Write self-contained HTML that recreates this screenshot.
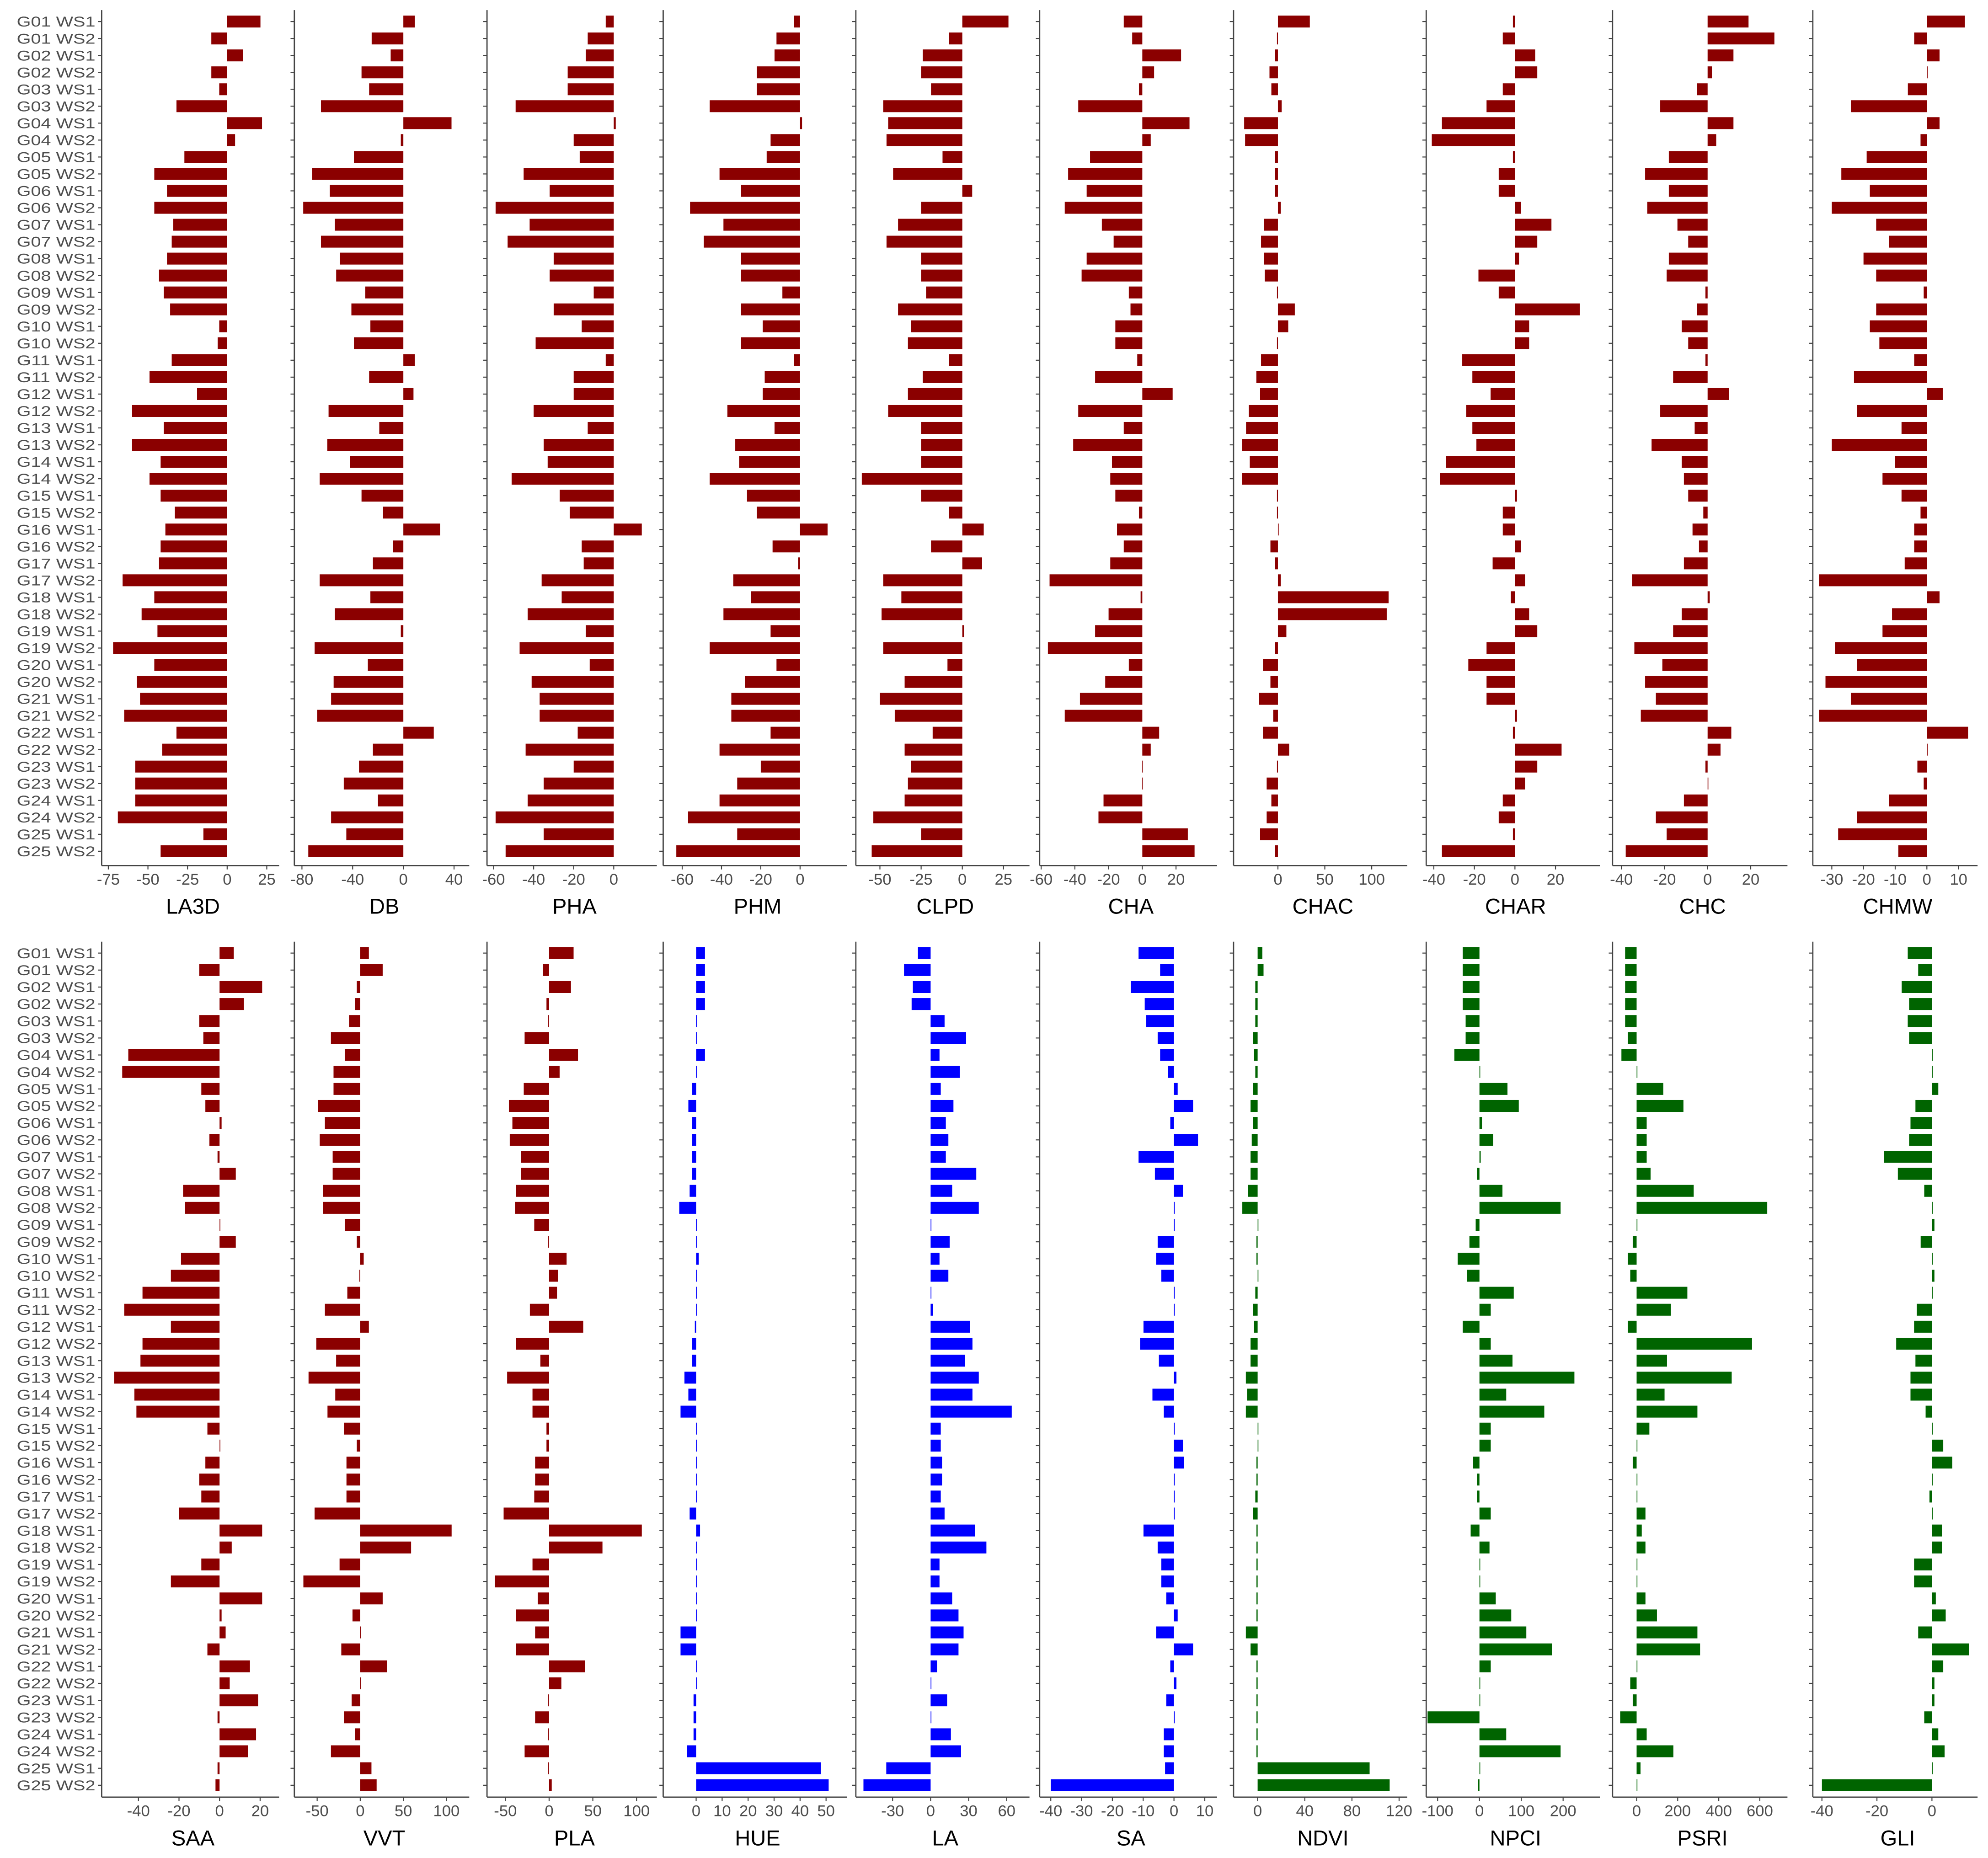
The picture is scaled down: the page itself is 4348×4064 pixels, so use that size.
<!DOCTYPE html>
<html><head><meta charset="utf-8"><style>
html,body{margin:0;padding:0;background:#fff;}
svg{display:block;}
</style></head><body>
<svg id="chart" xmlns="http://www.w3.org/2000/svg" width="4348" height="4064" viewBox="0 0 1568 1466" font-family="'Liberation Sans', sans-serif"></svg>
<script>
const categories = [];
for (let g = 1; g <= 25; g++) { const gg = (g < 10 ? 'G0' : 'G') + g; categories.push(gg + ' WS1'); categories.push(gg + ' WS2'); }

const LA3D = [21,-10,10,-10,-5,-32,22,5,-27,-46,-38,-46,-34,-35,-38,-43,-40,-36,-5,-6,-35,-49,-19,-60,-40,-60,-42,-49,-42,-33,-39,-42,-43,-66,-46,-54,-44,-72,-46,-57,-55,-65,-32,-41,-58,-58,-58,-69,-15,-42];
const DB = [9,-25,-10,-33,-27,-65,38,-2,-39,-72,-58,-79,-54,-65,-50,-53,-30,-41,-26,-39,9,-27,8,-59,-19,-60,-42,-66,-33,-16,29,-8,-24,-66,-26,-54,-2,-70,-28,-55,-57,-68,24,-24,-35,-47,-20,-57,-45,-75];
const PHA = [-4,-13,-14,-23,-23,-49,1,-20,-17,-45,-32,-59,-42,-53,-30,-32,-10,-30,-16,-39,-4,-20,-20,-40,-13,-35,-33,-51,-27,-22,14,-16,-15,-36,-26,-43,-14,-47,-12,-41,-37,-37,-18,-44,-20,-35,-43,-59,-35,-54];
const PHM = [-3,-12,-13,-22,-22,-46,1,-15,-17,-41,-30,-56,-39,-49,-30,-30,-9,-30,-19,-30,-3,-18,-19,-37,-13,-33,-31,-46,-27,-22,14,-14,-1,-34,-25,-39,-15,-46,-12,-28,-35,-35,-15,-41,-20,-32,-41,-57,-32,-63];
const CLPD = [28,-8,-24,-25,-19,-48,-45,-46,-12,-42,6,-25,-39,-46,-25,-25,-22,-39,-31,-33,-8,-24,-33,-45,-25,-25,-25,-61,-25,-8,13,-19,12,-48,-37,-49,1,-48,-9,-35,-50,-41,-18,-35,-31,-33,-35,-54,-25,-55];
const CHA = [-11,-6,23,7,-2,-38,28,5,-31,-44,-33,-46,-24,-17,-33,-36,-8,-7,-16,-16,-3,-28,18,-38,-11,-41,-18,-19,-16,-2,-15,-11,-19,-55,-1,-20,-28,-56,-8,-22,-37,-46,10,5,0,0,-23,-26,27,31];
const CHAC = [34,-1,-3,-9,-7,4,-36,-35,-3,-3,-3,3,-15,-18,-15,-14,-1,18,11,-1,-18,-23,-19,-31,-34,-38,-30,-38,-1,-1,0,-8,-3,3,118,116,9,-3,-16,-8,-20,-5,-16,12,-1,-12,-7,-12,-19,-3];
const CHAR = [-1,-6,10,11,-6,-14,-36,-41,-1,-8,-8,3,18,11,2,-18,-8,32,7,7,-26,-21,-12,-24,-21,-19,-34,-37,1,-6,-6,3,-11,5,-2,7,11,-14,-23,-14,-14,1,-1,23,11,5,-6,-8,-1,-36];
const CHC = [19,31,12,2,-5,-22,12,4,-18,-29,-18,-28,-14,-9,-18,-19,-1,-5,-12,-9,-1,-16,10,-22,-6,-26,-12,-11,-9,-2,-7,-4,-11,-35,1,-12,-16,-34,-21,-29,-24,-31,11,6,-1,0,-11,-24,-19,-38];
const CHMW = [12,-4,4,0,-6,-24,4,-2,-19,-27,-18,-30,-16,-12,-20,-16,-1,-16,-18,-15,-4,-23,5,-22,-8,-30,-10,-14,-8,-2,-4,-4,-7,-34,4,-11,-14,-29,-22,-32,-24,-34,13,0,-3,-1,-12,-22,-28,-9];
const SAA = [7,-10,21,12,-10,-8,-45,-48,-9,-7,1,-5,-1,8,-18,-17,0,8,-19,-24,-38,-47,-24,-38,-39,-52,-42,-41,-6,0,-7,-10,-9,-20,21,6,-9,-24,21,1,3,-6,15,5,19,-1,18,14,-1,-2];
const VVT = [10,26,-4,-6,-13,-34,-18,-31,-31,-49,-41,-47,-32,-32,-43,-43,-18,-4,4,-1,-15,-41,10,-51,-28,-60,-29,-38,-19,-4,-16,-16,-16,-53,106,59,-24,-66,26,-9,1,-22,31,0,-10,-19,-6,-34,13,19];
const PLA = [28,-7,25,-3,-1,-28,33,12,-29,-46,-42,-45,-32,-32,-38,-39,-17,-1,20,10,9,-22,39,-38,-10,-48,-19,-19,-3,-3,-16,-16,-17,-52,106,61,-19,-62,-13,-38,-16,-38,41,14,-1,-16,-1,-28,-1,3];
const HUE = [3.4,3.4,3.4,3.4,0,0,3.4,0,-1.5,-3,-1.5,-1.5,-1.5,-1.5,-2.5,-6.5,0,0,1,0,0,0,-0.5,-1.5,-1.5,-4.5,-3,-6,0,0,0,0,0,-2.5,1.5,0,0,0,0,0,-6,-6,0,0,-1,-1,-1,-3.5,48,51];
const LA = [-10,-21,-14,-15,11,28,7,23,8,18,12,14,12,36,17,38,0,15,7,14,0,2,31,33,27,38,33,64,8,8,9,9,8,11,35,44,7,7,17,22,26,22,5,0,13,0,16,24,-35,-53];
const SA = [-11.5,-4.5,-14,-9.5,-9,-5.3,-4.5,-2,1.2,6.2,-1.2,7.8,-11.5,-6.2,2.9,0,0,-5.3,-5.8,-4.1,0,0,-9.9,-11,-4.9,0.8,-7,-3.3,0,2.9,3.3,0,0,0,-9.9,-5.3,-4.1,-4.1,-2.5,1.2,-5.8,6.2,-1.2,0.8,-2.5,0,-3.3,-3.3,-2.9,-40];
const NDVI = [4,5,-2,-2,-2,-4,-3,-2,-4,-6,-4,-5,-6,-6,-8,-13,0,-1,-1,0,-2,-4,-3,-6,-6,-10,-9,-10,0,0,-1,-1,-2,-4,-1,-1,-1,-1,-1,-1,-10,-6,-1,-1,-1,-1,-1,-1,95,112];
const NPCI = [-40,-40,-40,-40,-33,-33,-60,0,67,94,6,33,3,-6,55,194,-9,-24,-52,-30,82,27,-40,27,79,227,64,155,27,27,-15,-6,-6,27,-21,24,0,0,39,76,112,173,27,0,0,-124,64,194,0,-3];
const PSRI = [-56,-56,-56,-56,-56,-43,-74,0,130,228,49,49,49,68,278,636,0,-19,-43,-31,247,167,-43,562,148,463,136,296,62,0,-19,0,0,43,25,43,0,0,43,99,296,309,0,-31,-19,-80,49,179,19,0];
const GLI = [-8.8,-5,-11,-8.3,-8.8,-8.3,0,0,2.3,-6,-7.8,-8.3,-17.5,-12.4,-2.8,0,0.9,-4.1,0,0.9,0,-5.5,-6.5,-13,-6,-7.8,-7.8,-2.3,0,4.1,7.4,0,-0.9,0,3.7,3.7,-6.5,-6.5,1.4,5,-5,13.4,4.1,0.9,0.9,-2.8,2.3,4.6,0,-40];

const ticksLA3D = [-75,-50,-25,0,25];
const ticksDB = [-80,-40,0,40];
const ticksPHA = [-60,-40,-20,0];
const ticksPHM = [-60,-40,-20,0];
const ticksCLPD = [-50,-25,0,25];
const ticksCHA = [-60,-40,-20,0,20];
const ticksCHAC = [0,50,100];
const ticksCHAR = [-40,-20,0,20];
const ticksCHC = [-40,-20,0,20];
const ticksCHMW = [-30,-20,-10,0,10];
const ticksSAA = [-40,-20,0,20];
const ticksVVT = [-50,0,50,100];
const ticksPLA = [-50,0,50,100];
const ticksHUE = [0,10,20,30,40,50];
const ticksLA = [-30,0,30,60];
const ticksSA = [-40,-30,-20,-10,0,10];
const ticksNDVI = [0,40,80,120];
const ticksNPCI = [-100,0,100,200];
const ticksPSRI = [0,200,400,600];
const ticksGLI = [-40,-20,0];

const RED = '#8b0000', BLUE = '#0000ff', GREEN = '#006400';
// layout: x0/x1 panel extents, zero pixel and pixels per unit (display coords)
const panels = [
 {t:'LA3D',v:LA3D,tk:ticksLA3D,c:RED,r:0,x0:80,x1:220,z:179,k:1.25},
 {t:'DB',v:DB,tk:ticksDB,c:RED,r:0,x0:232,x1:370,z:318,k:1.0},
 {t:'PHA',v:PHA,tk:ticksPHA,c:RED,r:0,x0:384,x1:518,z:484,k:1.58},
 {t:'PHM',v:PHM,tk:ticksPHM,c:RED,r:0,x0:523,x1:668,z:631,k:1.55},
 {t:'CLPD',v:CLPD,tk:ticksCLPD,c:RED,r:0,x0:675,x1:812,z:759,k:1.3},
 {t:'CHA',v:CHA,tk:ticksCHA,c:RED,r:0,x0:820,x1:960,z:901,k:1.33},
 {t:'CHAC',v:CHAC,tk:ticksCHAC,c:RED,r:0,x0:973,x1:1110,z:1008,k:0.74},
 {t:'CHAR',v:CHAR,tk:ticksCHAR,c:RED,r:0,x0:1125,x1:1262,z:1195,k:1.6},
 {t:'CHC',v:CHC,tk:ticksCHC,c:RED,r:0,x0:1272,x1:1410,z:1347,k:1.7},
 {t:'CHMW',v:CHMW,tk:ticksCHMW,c:RED,r:0,x0:1430,x1:1560,z:1520,k:2.5},
 {t:'SAA',v:SAA,tk:ticksSAA,c:RED,r:1,x0:80,x1:220,z:173,k:1.6},
 {t:'VVT',v:VVT,tk:ticksVVT,c:RED,r:1,x0:232,x1:370,z:284,k:0.68},
 {t:'PLA',v:PLA,tk:ticksPLA,c:RED,r:1,x0:384,x1:518,z:433,k:0.69},
 {t:'HUE',v:HUE,tk:ticksHUE,c:BLUE,r:1,x0:523,x1:668,z:549,k:2.05},
 {t:'LA',v:LA,tk:ticksLA,c:BLUE,r:1,x0:675,x1:812,z:734,k:1.0},
 {t:'SA',v:SA,tk:ticksSA,c:BLUE,r:1,x0:820,x1:960,z:926,k:2.43},
 {t:'NDVI',v:NDVI,tk:ticksNDVI,c:GREEN,r:1,x0:973,x1:1110,z:992,k:0.93},
 {t:'NPCI',v:NPCI,tk:ticksNPCI,c:GREEN,r:1,x0:1125,x1:1262,z:1167,k:0.33},
 {t:'PSRI',v:PSRI,tk:ticksPSRI,c:GREEN,r:1,x0:1272,x1:1410,z:1291,k:0.162},
 {t:'GLI',v:GLI,tk:ticksGLI,c:GREEN,r:1,x0:1430,x1:1560,z:1524,k:2.17}
];
const rowsL = [
 {y0:17,step:13.36,top:8,axisY:683,tickY:698,titleY:721},
 {y0:752,step:13.4,top:743,axisY:1418,tickY:1433,titleY:1456}
];
const NS = 'http://www.w3.org/2000/svg';
const svg = document.getElementById('chart');
function mk(tag, attrs, parent) {
  const e = document.createElementNS(NS, tag);
  for (const a in attrs) e.setAttribute(a, attrs[a]);
  (parent || svg).appendChild(e);
  return e;
}
panels.forEach((p, pi) => {
  const L = rowsL[p.r];
  const xs = v => p.z + v * p.k;
  const ys = i => L.y0 + i * L.step;
  const g = mk('g', {});
  
  
  // bars
  p.v.forEach((v, i) => {
    const a = xs(0), b = xs(v);
    const r = mk('rect', {x: Math.min(a, b), y: ys(i) - 4.7, width: Math.max(Math.abs(b - a), 0.6), height: 9.4, fill: p.c}, g);
    
    
  });
  // y axis line
  const ya = mk('line', {x1: p.x0, y1: L.top, x2: p.x0, y2: L.axisY, stroke: '#444', 'stroke-width': 1}, g);
  
  
  categories.forEach((c, i) => {
    mk('line', {x1: p.x0 - 3, y1: ys(i), x2: p.x0, y2: ys(i), stroke: '#444', 'stroke-width': 0.8}, g);
    if (p.x0 === 80) {
      const t = mk('text', {x: p.x0 - 5, y: ys(i) + 4, 'text-anchor': 'end', 'font-size': 11.5, fill: '#4d4d4d', textLength: 62, lengthAdjust: 'spacingAndGlyphs'}, g);
      
      
      t.textContent = c;
    }
  });
  // x axis
  const xa = mk('line', {x1: p.x0, y1: L.axisY, x2: p.x1, y2: L.axisY, stroke: '#444', 'stroke-width': 1}, g);
  
  
  p.tk.forEach(tv => {
    const x = xs(tv);
    mk('line', {x1: x, y1: L.axisY, x2: x, y2: L.axisY + 3, stroke: '#444', 'stroke-width': 0.8}, g);
    const t = mk('text', {x: x, y: L.tickY, 'text-anchor': 'middle', 'font-size': 12.5, fill: '#4d4d4d'}, g);
    
    
    t.textContent = String(tv);
  });
  const tt = mk('text', {x: (p.x0 + p.x1) / 2 + 2, y: L.titleY, 'text-anchor': 'middle', 'font-size': 17, fill: '#000'}, g);
  
  
  tt.textContent = p.t;
});
</script>
</body></html>
